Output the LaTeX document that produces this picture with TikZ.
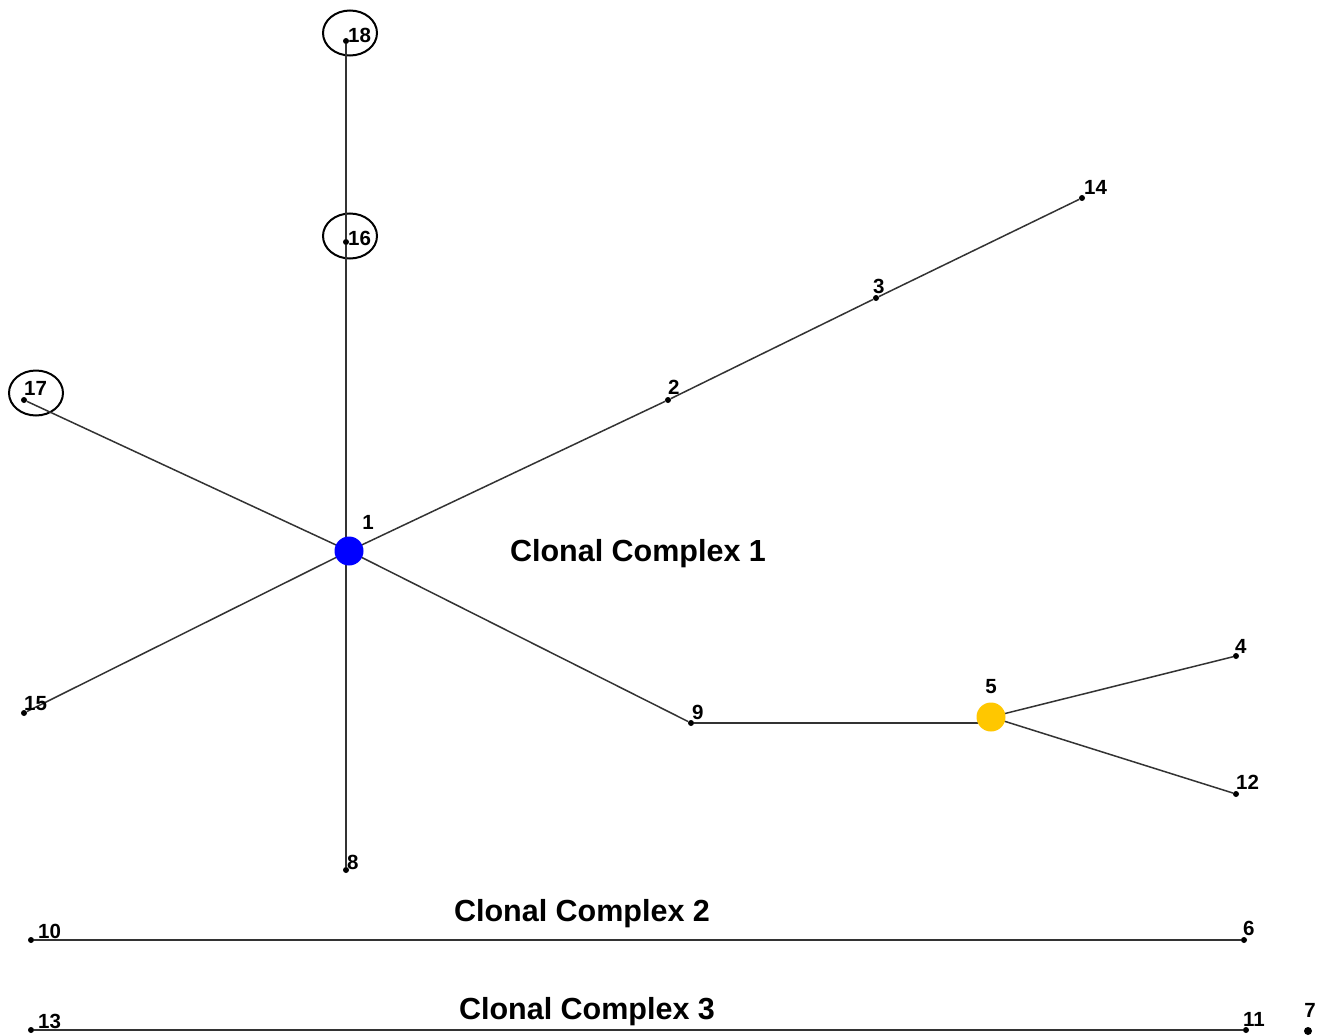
\documentclass[tikz,border=0pt]{standalone}
\usepackage{fontspec}
\setmainfont{Liberation Sans}
\usetikzlibrary{shapes.geometric}
\tikzset{
  dot/.style={circle,fill=black,inner sep=0pt,minimum size=6pt},
  bigdot/.style={circle,inner sep=0pt,minimum size=29pt},
  lbl/.style={inner sep=0pt,anchor=base west,font=\fontsize{20.5}{20}\selectfont\bfseries},
  clbl/.style={inner sep=0pt,anchor=base,font=\fontsize{20.5}{20}\selectfont\bfseries},
  title/.style={inner sep=0pt,font=\fontsize{30.5}{30}\selectfont\bfseries},
  edge/.style={draw=black!80,line width=1.5pt},
  ring/.style={ellipse,draw=black,line width=2pt,minimum width=54pt,minimum height=45pt,inner sep=0pt}
}
\begin{document}
\begin{tikzpicture}[x=1pt,y=-1pt]
\useasboundingbox[fill=white] (0,0) rectangle (1318,1036);
% nodes
\node[dot] (n18) at (346,41) {};
\node[dot] (n16) at (346,242) {};
\node[dot] (n17) at (24,400) {};
\node[dot] (n14) at (1082,198) {};
\node[dot] (n3) at (876,298) {};
\node[dot] (n2) at (668,400) {};
\node[dot] (n15) at (24,713) {};
\node[dot] (n8) at (346,870) {};
\node[dot] (n9) at (691,723) {};
\node[dot] (n4) at (1236,656) {};
\node[dot] (n12) at (1236,794) {};
\node[dot] (n10) at (31,940) {};
\node[dot] (n6) at (1244,940) {};
\node[dot] (n13) at (31,1030) {};
\node[dot] (n11) at (1246,1030) {};
\node[dot,minimum size=8pt] (n7) at (1308,1031) {};
\coordinate (n1) at (349,551);
\coordinate (n5) at (991,717);
\coordinate (v1) at (n16 |- n1);
\coordinate (h5) at (n9 -| n5);
% rings
\node[ring] (r18) at (350,33) {};
\node[ring] (r16) at (350,236) {};
\node[ring] (r17) at (36,393) {};
% edges
\draw[edge] (v1) -- (n16);
\draw[edge] (n16) -- (n18);
\draw[edge] (n1) -- (n17);
\draw[edge] (n1) -- (n2);
\draw[edge] (n2) -- (n3);
\draw[edge] (n3) -- (n14);
\draw[edge] (n1) -- (n15);
\draw[edge] (v1) -- (n8);
\draw[edge] (n1) -- (n9);
\draw[edge] (n9) -- (h5);
\draw[edge] (n5) -- (n4);
\draw[edge] (n5) -- (n12);
\draw[edge] (n10) -- (n6);
\draw[edge] (n13) -- (n11);
% big coloured nodes on top
\node[bigdot,fill={rgb,255:red,0;green,0;blue,255}] (c1n) at (n1) {};
\node[bigdot,fill={rgb,255:red,255;green,199;blue,0}] (c5n) at (n5) {};
% labels
\node[lbl] (l18) at (348,42) {18};
\node[lbl] (l16) at (348,245) {16};
\node[lbl] (l17) at (24,395) {17};
\node[lbl] (l14) at (1084,194) {14};
\node[lbl] (l3) at (873,293) {3};
\node[lbl] (l2) at (668,394) {2};
\node[lbl] (l15) at (24,710) {15};
\node[lbl] (l8) at (347,869) {8};
\node[lbl] (l9) at (692,719) {9};
\node[lbl] (l4) at (1235,653) {4};
\node[lbl] (l12) at (1236,789) {12};
\node[lbl] (l10) at (38,938) {10};
\node[lbl] (l6) at (1243,935) {6};
\node[lbl] (l13) at (38,1028) {13};
\node[lbl] (l11) at (1243,1026) {11};
\node[clbl] (l7) at (1310,1017) {7};
\node[clbl] (l1) at (368,529) {1};
\node[clbl] (l5) at (991,693) {5};
\node[title] (c1) at (638,554) {Clonal Complex 1};
\node[title] (c2) at (582,914) {Clonal Complex 2};
\node[title] (c3) at (587,1012) {Clonal Complex 3};
\end{tikzpicture}
\end{document}
